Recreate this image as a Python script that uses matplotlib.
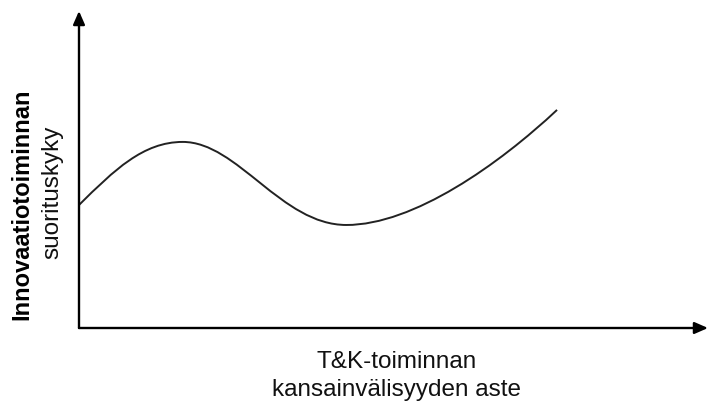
import matplotlib.pyplot as plt
from matplotlib.path import Path
from matplotlib.patches import PathPatch

plt.rcParams['font.family'] = ['Liberation Sans', 'DejaVu Sans']

# curve: anchor points and bezier control points (x, y in 0..100 axis units)
anchors_x = [0, 16.5, 42.5, 76.0]
anchors_y = [38.8, 58.7, 32.5, 68.8]
ctrl_x = [(5.6, 10.2), (25.2, 32.2), (53.2, 66.8)]
ctrl_y = [(49.8, 58.7), (58.7, 32.5), (32.5, 51.7)]

x_label = 'T&K-toiminnan\nkansainvälisyyden aste'
y_label_bold = 'Innovaatiotoiminnan'
y_label = 'suorituskyky'

fig = plt.figure(figsize=(7.1, 4.1), dpi=100)
ax = fig.add_axes([79 / 710, 81 / 410, 629 / 710, 317 / 410])
ax.set_xlim(0, 100)
ax.set_ylim(0, 100)
ax.axis('off')

# - axes with arrows
arrow = dict(arrowstyle='-|>,head_length=0.8,head_width=0.35',
             color='black', lw=1.7, shrinkA=0, shrinkB=0)
ax.annotate('', xy=(1.0, 0), xytext=(0, 0), xycoords='axes fraction', arrowprops=arrow)
ax.annotate('', xy=(0, 1.0), xytext=(0, 0), xycoords='axes fraction', arrowprops=arrow)

# - curve
verts = [(anchors_x[0], anchors_y[0])]
codes = [Path.MOVETO]
for i in range(len(ctrl_x)):
    verts += [(ctrl_x[i][0], ctrl_y[i][0]), (ctrl_x[i][1], ctrl_y[i][1]),
              (anchors_x[i + 1], anchors_y[i + 1])]
    codes += [Path.CURVE4] * 3
ax.add_patch(PathPatch(Path(verts, codes), fill=False, edgecolor='#222222', lw=1.4))

# - labels
fig.text(397 / 710, 1 - 376 / 410, x_label, ha='center', va='center',
         fontsize=17.5, linespacing=1.4, color='#111111')
fig.text(21.5 / 710, 1 - 204 / 410, y_label_bold, ha='center', va='center',
         rotation=90, fontsize=17, fontweight='bold')
fig.text(52 / 710, 1 - 192 / 410, y_label, ha='center', va='center',
         rotation=90, fontsize=17.5, color='#111111')

plt.savefig('out.png')
